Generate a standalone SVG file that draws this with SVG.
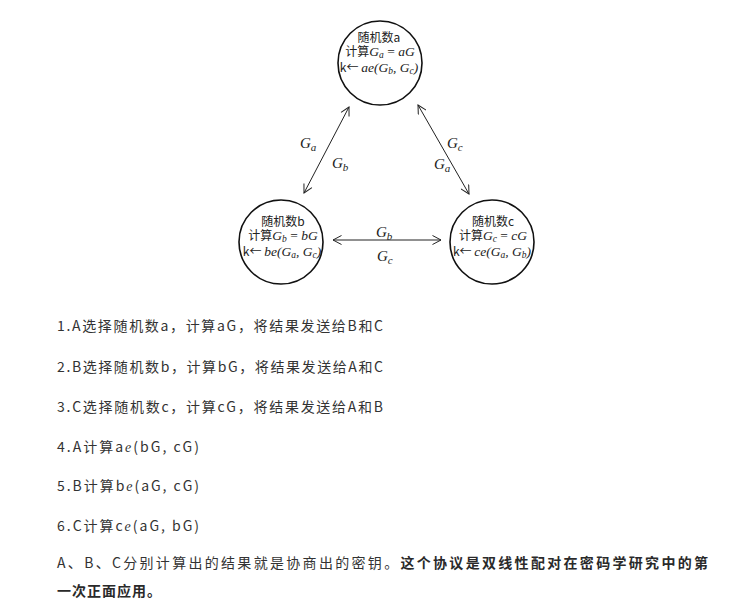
<svg xmlns="http://www.w3.org/2000/svg" width="740" height="609" viewBox="0 0 740 609">
  <style>
    .bg { fill: #ffffff; }
    .node { fill: #ffffff; stroke: #111111; stroke-width: 1.6; }
    .nt { font-family: "Noto Sans CJK SC", "Liberation Sans", sans-serif; font-size: 12px; fill: #222222; }
    .m { font-family: "Liberation Serif", "DejaVu Serif", serif; font-style: italic; font-size: 13.5px; }
    .up { font-family: "Liberation Serif", "DejaVu Serif", serif; font-style: normal; font-size: 13.5px; }
    .s { font-family: "Liberation Serif", "DejaVu Serif", serif; font-style: italic; font-size: 9.5px; }
    .edge { stroke: #222222; stroke-width: 1; fill: none; marker-start: url(#arr); marker-end: url(#arr); }
    .el { font-family: "Liberation Serif", "DejaVu Serif", serif; font-style: italic; font-size: 15px; fill: #222222; }
    .els { font-size: 11px; }
    .body { font-family: "Noto Sans CJK SC", "Liberation Sans", sans-serif; font-size: 14px; fill: #333333; }
    .b { font-weight: bold; fill: #2a2a2a; }
    .ie { font-family: "Liberation Serif", serif; font-style: italic; }
  </style>
  <defs>
    <marker id="arr" viewBox="0 0 10 10" refX="9" refY="5" markerWidth="10" markerHeight="10" markerUnits="userSpaceOnUse" orient="auto-start-reverse">
      <path d="M0.5,0.5 L9,5 L0.5,9.5" fill="none" stroke="#222222" stroke-width="1"/>
    </marker>
  </defs>
  <rect class="bg" x="0" y="0" width="740" height="609"/>

  <g id="connectors">
    <line class="edge" x1="349" y1="107" x2="304" y2="193"/>
    <line class="edge" x1="418" y1="105" x2="469" y2="194"/>
    <line class="edge" x1="333" y1="240" x2="441" y2="240"/>
    <text class="el" x="300" y="148">G<tspan class="els" dy="3">a</tspan></text>
    <text class="el" x="332" y="168">G<tspan class="els" dy="3">b</tspan></text>
    <text class="el" x="447" y="148">G<tspan class="els" dy="3">c</tspan></text>
    <text class="el" x="434" y="169">G<tspan class="els" dy="3">a</tspan></text>
    <text class="el" x="376" y="237">G<tspan class="els" dy="3">b</tspan></text>
    <text class="el" x="377" y="261">G<tspan class="els" dy="3">c</tspan></text>
  </g>

  <g id="node-a">
    <circle class="node" cx="380" cy="63" r="42"/>
    <text class="nt" x="379" y="42" text-anchor="middle">随机数a</text>
    <text class="nt" x="380" y="56" text-anchor="middle">计算<tspan class="m">G</tspan><tspan class="s" dy="2">a</tspan><tspan class="up" dy="-2"> = </tspan><tspan class="m">aG</tspan></text>
    <text class="nt" x="379" y="72" text-anchor="middle">k← <tspan class="m">ae(G</tspan><tspan class="s" dy="2">b</tspan><tspan class="m" dy="-2">, G</tspan><tspan class="s" dy="2">c</tspan><tspan class="m" dy="-2">)</tspan></text>
  </g>

  <g id="node-b">
    <circle class="node" cx="281" cy="242" r="42"/>
    <text class="nt" x="283" y="226" text-anchor="middle">随机数b</text>
    <text class="nt" x="283" y="240" text-anchor="middle">计算<tspan class="m">G</tspan><tspan class="s" dy="2">b</tspan><tspan class="up" dy="-2"> = </tspan><tspan class="m">bG</tspan></text>
    <text class="nt" x="282" y="256" text-anchor="middle">k← <tspan class="m">be(G</tspan><tspan class="s" dy="2">a</tspan><tspan class="m" dy="-2">, G</tspan><tspan class="s" dy="2">c</tspan><tspan class="m" dy="-2">)</tspan></text>
  </g>

  <g id="node-c">
    <circle class="node" cx="492" cy="242" r="42"/>
    <text class="nt" x="493" y="226" text-anchor="middle">随机数c</text>
    <text class="nt" x="493" y="240" text-anchor="middle">计算<tspan class="m">G</tspan><tspan class="s" dy="2">c</tspan><tspan class="up" dy="-2"> = </tspan><tspan class="m">cG</tspan></text>
    <text class="nt" x="492" y="256" text-anchor="middle">k← <tspan class="m">ce(G</tspan><tspan class="s" dy="2">a</tspan><tspan class="m" dy="-2">, G</tspan><tspan class="s" dy="2">b</tspan><tspan class="m" dy="-2">)</tspan></text>
  </g>

  <g id="steps">
    <text class="body" x="57" y="331" textLength="326">1.A选择随机数a，计算aG，将结果发送给B和C</text>
    <text class="body" x="57" y="372" textLength="326">2.B选择随机数b，计算bG，将结果发送给A和C</text>
    <text class="body" x="57" y="412" textLength="326">3.C选择随机数c，计算cG，将结果发送给A和B</text>
    <text class="body" x="57" y="452" textLength="142">4.A计算a<tspan class="ie">e</tspan>(bG, cG)</text>
    <text class="body" x="57" y="491" textLength="142">5.B计算b<tspan class="ie">e</tspan>(aG, cG)</text>
    <text class="body" x="57" y="531" textLength="142">6.C计算c<tspan class="ie">e</tspan>(aG, bG)</text>
    <text class="body" x="57" y="568" textLength="651">A、B、C分别计算出的结果就是协商出的密钥。<tspan class="b">这个协议是双线性配对在密码学研究中的第</tspan></text>
    <text class="body b" x="57" y="596" textLength="104">一次正面应用。</text>
  </g>
</svg>
